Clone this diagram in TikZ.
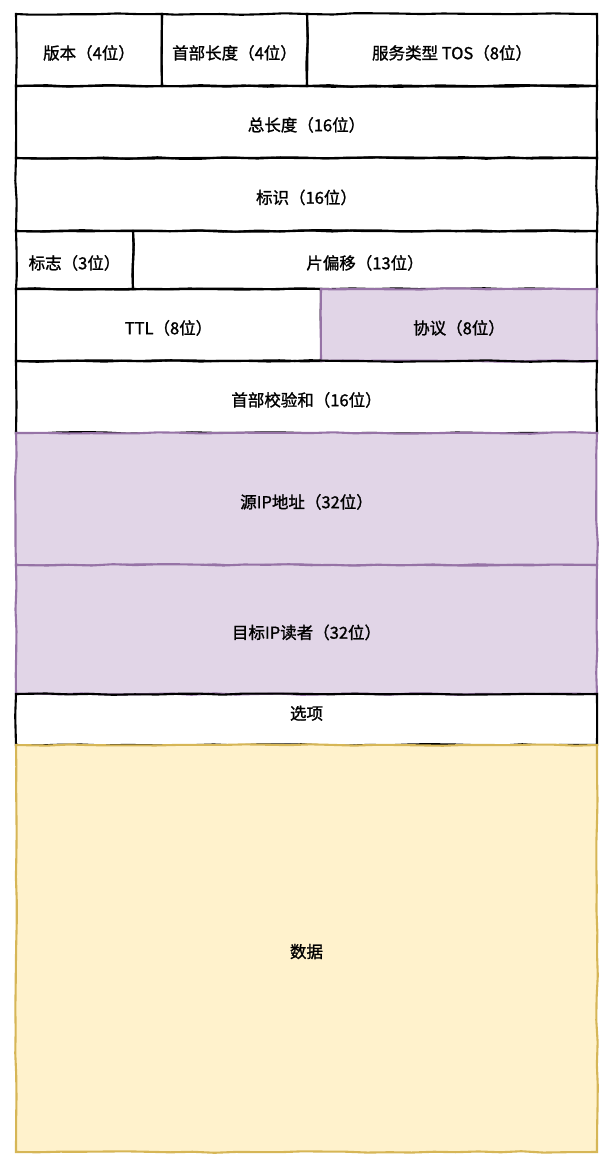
\documentclass[tikz,border=0pt]{standalone}
\usepackage{fontspec}
\setmainfont{Noto Sans CJK SC}[AutoFakeBold=1.3]
\usetikzlibrary{decorations.pathmorphing}
\definecolor{purplefill}{HTML}{E1D5E7}
\definecolor{purpleline}{HTML}{9673A6}
\definecolor{yellowfill}{HTML}{FFF2CC}
\definecolor{yellowline}{HTML}{D6B656}

\begin{document}
\begin{tikzpicture}[x=1pt,y=-1pt]
\tikzset{field/.style = {draw, line width=2.1pt, inner sep=0pt, text height=20pt, font=\fontsize{16.5pt}{19pt}\selectfont\bfseries,
  decorate, decoration={random steps, segment length=22pt, amplitude=0.8pt}}}
\tikzset{hot/.style = {field, fill=purplefill, draw=purpleline}}
\tikzset{payload/.style = {field, fill=yellowfill, draw=yellowline}}
\pgfmathsetseed{7}
\useasboundingbox (0,0) rectangle (611,1169);
% first word
\node[field, minimum width=146pt, minimum height=72pt] (ver) at (89,50) {版本（4位）};
\node[field, minimum width=145pt, minimum height=72pt] (ihl) at (234.5,50) {首部长度（4位）};
\node[field, minimum width=290pt, minimum height=72pt] (tos) at (452,50) {服务类型 TOS（8位）};
\node[field, minimum width=581pt, minimum height=72pt] (len) at (306.5,122) {总长度（16位）};
% second word
\node[field, minimum width=581pt, minimum height=73pt] (ident) at (306.5,194.5) {标识（16位）};
\node[field, minimum width=117pt, minimum height=58pt] (flag) at (74.5,260) {标志（3位）};
\node[field, minimum width=464pt, minimum height=58pt] (frag) at (365,260) {片偏移（13位）};
% third word
\node[field, minimum width=305pt, minimum height=72pt] (ttl) at (168.5,325) {TTL（8位）};
\node[hot, minimum width=276pt, minimum height=72pt] (proto) at (459,325) {协议（8位）};
\node[field, minimum width=581pt, minimum height=72pt] (check) at (306.5,397) {首部校验和（16位）};
% addresses
\node[hot, minimum width=581pt, minimum height=132pt] (src) at (306.5,499) {源IP地址（32位）};
\node[hot, minimum width=581pt, minimum height=129pt] (dst) at (306.5,629.5) {目标IP读者（32位）};
% options and payload
\node[field, minimum width=581pt, minimum height=51pt, text height=15pt, text depth=15pt] (opt) at (306.5,719.5) {选项};
\node[payload, minimum width=581pt, minimum height=407pt] (data) at (306.5,948.5) {数据};

\end{tikzpicture}
\end{document}
